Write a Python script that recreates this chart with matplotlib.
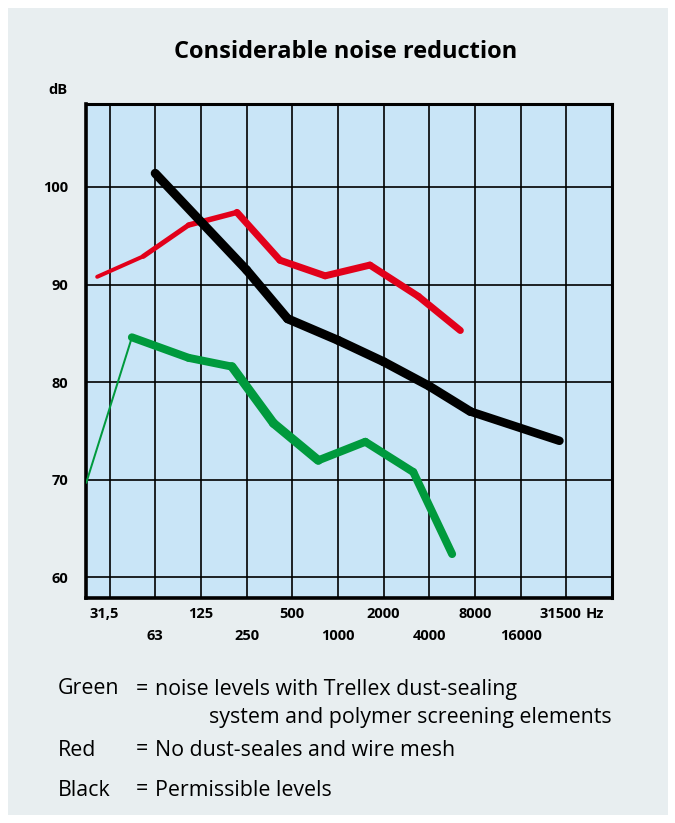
import numpy as np
import matplotlib.pyplot as plt
from matplotlib.collections import LineCollection
from matplotlib.patches import Rectangle

# octave band labels, one per grid column
freq_row1 = ["31,5", "125", "500", "2000", "8000", "31500"]
freq_row2 = ["63", "250", "1000", "4000", "16000"]
db_ticks = [60, 70, 80, 90, 100]

# x in octave steps (0 = 31.5 Hz, 1 = 63 Hz, ...), y in dB
black_x = [1.0, 3.0, 3.9, 5.0, 6.0, 7.0, 7.9, 9.85]
black_y = [101.4, 91.5, 86.5, 84.3, 82.1, 79.6, 77.0, 74.0]
black_w = [9, 9, 9, 9, 9, 9, 8.5]

red_x = [-0.27, 0.74, 1.73, 2.79, 3.73, 4.72, 5.7, 6.76, 7.68]
red_y = [90.8, 92.9, 96.1, 97.4, 92.5, 90.9, 92.0, 88.8, 85.3]
red_w = [4, 5, 5.5, 7, 7, 7, 7, 7]

green_x = [-0.51, 0.49, 1.73, 2.68, 3.59, 4.57, 5.6, 6.65, 7.5]
green_y = [69.7, 84.6, 82.5, 81.6, 75.8, 72.0, 73.9, 70.8, 62.4]
green_w = [2, 8, 8, 9, 9, 8, 8, 8]

legend_rows = [("Green", "noise levels with Trellex dust-sealing"),
               ("Red", "No dust-seales and wire mesh"),
               ("Black", "Permissible levels")]
legend_extra = "system and polymer screening elements"

plt.rcParams['font.family'] = ['Open Sans', 'DejaVu Sans']

W, H = 675, 823
fig = plt.figure(figsize=(W / 100, H / 100), dpi=100)
fig.patch.set_facecolor('white')
fig.add_artist(Rectangle((8 / W, 8 / H), 660 / W, 807 / H, transform=fig.transFigure,
                         facecolor='#e8eef0', edgecolor='none', zorder=-10))

ax = fig.add_axes([86 / W, 1 - 598 / H, (612 - 86) / W, (598 - 104) / H])
ax.set_facecolor('#c9e5f7')
ax.set_xlim(-0.515, 11.0)
ax.set_ylim(57.9, 108.5)

for v in range(11):
    ax.axvline(v, color='black', lw=1.2, zorder=1)
for v in db_ticks:
    ax.axhline(v, color='black', lw=1.2, zorder=1)

for s in ax.spines.values():
    s.set_linewidth(2.2)
ax.spines['left'].set_linewidth(2.6)
ax.spines['bottom'].set_linewidth(2.6)


def draw(xs, ys, ws, color):
    pts = np.column_stack([xs, ys])
    segs = [pts[i:i + 2] for i in range(len(pts) - 1)]
    lc = LineCollection(segs, colors=color, linewidths=[w * 0.72 for w in ws],
                        capstyle='round', joinstyle='round', zorder=3)
    ax.add_collection(lc)


draw(red_x, red_y, red_w, '#e2001a')
draw(green_x, green_y, green_w, '#009a3d')
draw(black_x, black_y, black_w, 'black')

fs_tick = 10.5
ax.set_xticks([])
ax.set_yticks(db_ticks)
ax.set_yticklabels([str(v) for v in db_ticks], fontsize=fs_tick, fontweight='bold')
ax.tick_params(axis='y', length=0, pad=13)

for i, lab in enumerate(freq_row1):
    dx = -4 if i in (0, 5) else 0
    ax.annotate(lab, xy=(2 * i, 0), xycoords=('data', 'axes fraction'),
                xytext=(dx, -11.5), textcoords='offset points',
                ha='center', va='center', fontsize=fs_tick, fontweight='bold')
for i, lab in enumerate(freq_row2):
    ax.annotate(lab, xy=(2 * i + 1, 0), xycoords=('data', 'axes fraction'),
                xytext=(0, -27.5), textcoords='offset points',
                ha='center', va='center', fontsize=fs_tick, fontweight='bold')
ax.annotate("Hz", xy=(10, 0), xycoords=('data', 'axes fraction'),
            xytext=(14, -11.5), textcoords='offset points',
            ha='left', va='center', fontsize=fs_tick, fontweight='bold')

fig.text(58 / W, 1 - 90 / H, "dB", ha='center', va='center', fontsize=fs_tick, fontweight='bold')
fig.text(346 / W, 1 - 52 / H, "Considerable noise reduction", ha='center', va='center',
         fontsize=17, fontweight='bold')

fs_leg = 15.4
rows_y = [689, 750, 790]
for (name, desc), yy in zip(legend_rows, rows_y):
    fig.text(58 / W, 1 - yy / H, name, ha='left', va='center', fontsize=fs_leg)
    fig.text(136 / W, 1 - yy / H, "=", ha='left', va='center', fontsize=fs_leg)
    fig.text(155 / W, 1 - yy / H, desc, ha='left', va='center', fontsize=fs_leg)
fig.text(209 / W, 1 - 718 / H, legend_extra, ha='left', va='center', fontsize=fs_leg)

fig.savefig('out.png', dpi=100)
